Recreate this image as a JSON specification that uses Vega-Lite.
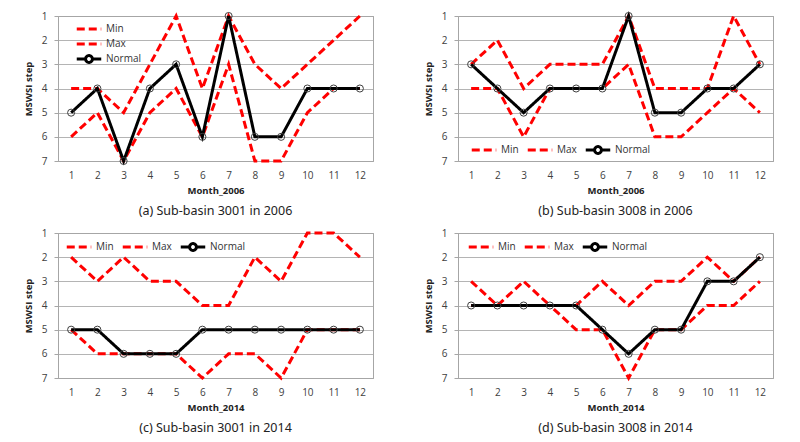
{
  "$schema": "https://vega.github.io/schema/vega-lite/v6.json",
  "padding": {"left": 22, "top": 9, "right": 5, "bottom": 5},
  "background": "white",
  "data": {"values": [
    {"p":"a","m":1,"Min":4,"Max":6,"Normal":5},{"p":"a","m":2,"Min":4,"Max":5,"Normal":4},{"p":"a","m":3,"Min":5,"Max":7,"Normal":7},{"p":"a","m":4,"Min":3,"Max":5,"Normal":4},{"p":"a","m":5,"Min":1,"Max":4,"Normal":3},{"p":"a","m":6,"Min":4,"Max":6,"Normal":6},{"p":"a","m":7,"Min":1,"Max":3,"Normal":1},{"p":"a","m":8,"Min":3,"Max":7,"Normal":6},{"p":"a","m":9,"Min":4,"Max":7,"Normal":6},{"p":"a","m":10,"Min":3,"Max":5,"Normal":4},{"p":"a","m":11,"Min":2,"Max":4,"Normal":4},{"p":"a","m":12,"Min":1,"Max":4,"Normal":4},
    {"p":"b","m":1,"Min":3,"Max":4,"Normal":3},{"p":"b","m":2,"Min":2,"Max":4,"Normal":4},{"p":"b","m":3,"Min":4,"Max":6,"Normal":5},{"p":"b","m":4,"Min":3,"Max":4,"Normal":4},{"p":"b","m":5,"Min":3,"Max":4,"Normal":4},{"p":"b","m":6,"Min":3,"Max":4,"Normal":4},{"p":"b","m":7,"Min":1,"Max":3,"Normal":1},{"p":"b","m":8,"Min":4,"Max":6,"Normal":5},{"p":"b","m":9,"Min":4,"Max":6,"Normal":5},{"p":"b","m":10,"Min":4,"Max":5,"Normal":4},{"p":"b","m":11,"Min":1,"Max":4,"Normal":4},{"p":"b","m":12,"Min":3,"Max":5,"Normal":3},
    {"p":"c","m":1,"Min":2,"Max":5,"Normal":5},{"p":"c","m":2,"Min":3,"Max":6,"Normal":5},{"p":"c","m":3,"Min":2,"Max":6,"Normal":6},{"p":"c","m":4,"Min":3,"Max":6,"Normal":6},{"p":"c","m":5,"Min":3,"Max":6,"Normal":6},{"p":"c","m":6,"Min":4,"Max":7,"Normal":5},{"p":"c","m":7,"Min":4,"Max":6,"Normal":5},{"p":"c","m":8,"Min":2,"Max":6,"Normal":5},{"p":"c","m":9,"Min":3,"Max":7,"Normal":5},{"p":"c","m":10,"Min":1,"Max":5,"Normal":5},{"p":"c","m":11,"Min":1,"Max":5,"Normal":5},{"p":"c","m":12,"Min":2,"Max":5,"Normal":5},
    {"p":"d","m":1,"Min":3,"Max":4,"Normal":4},{"p":"d","m":2,"Min":4,"Max":4,"Normal":4},{"p":"d","m":3,"Min":3,"Max":4,"Normal":4},{"p":"d","m":4,"Min":4,"Max":4,"Normal":4},{"p":"d","m":5,"Min":4,"Max":5,"Normal":4},{"p":"d","m":6,"Min":3,"Max":5,"Normal":5},{"p":"d","m":7,"Min":4,"Max":7,"Normal":6},{"p":"d","m":8,"Min":3,"Max":5,"Normal":5},{"p":"d","m":9,"Min":3,"Max":5,"Normal":5},{"p":"d","m":10,"Min":2,"Max":4,"Normal":3},{"p":"d","m":11,"Min":3,"Max":4,"Normal":3},{"p":"d","m":12,"Min":2,"Max":3,"Normal":2}
  ]},
  "transform": [{"fold": ["Min", "Max", "Normal"], "as": ["s", "v"]}],
  "columns": 2,
  "spacing": {"row": 8, "column": 48},
  "resolve": {"scale": {"color": "independent", "strokeDash": "independent", "strokeWidth": "independent"}, "legend": {"color": "independent"}},
  "concat": [
    {
      "width": 315, "height": 145,
      "transform": [{"filter": "datum.p === 'a'"}],
      "title": {"text": "(a) Sub-basin 3001 in 2006"},
      "resolve": {"axis": {"x": "independent", "y": "independent"}},
      "encoding": {
        "x": {"field": "m", "type": "quantitative", "title": "Month_2006", "scale": {"domain": [0.5, 12.5], "nice": false, "zero": false}, "axis": {"values": [1,2,3,4,5,6,7,8,9,10,11,12]}},
        "y": {"field": "v", "type": "quantitative", "title": "MSWSI step", "scale": {"domain": [1, 7], "reverse": true, "nice": false, "zero": false}, "axis": {"values": [1,2,3,4,5,6,7]}}
      },
      "layer": [
        {"mark": {"type": "line"},
         "encoding": {
           "color": {"field": "s", "type": "nominal", "scale": {"domain": ["Min", "Max", "Normal"], "range": ["#ff0000", "#ff0000", "#000000"]},
             "legend": {"title": null, "orient": "none", "legendX": 17, "legendY": 5.5, "direction": "vertical", "clipHeight": 15, "rowPadding": 0,
               "encode": {"symbols": {"update": {"shape": {"signal": "datum.value === 'Normal' ? 'M-1,0L-0.28,0M0.28,0L1,0M0.28,0A0.28,0.28,0,1,1,-0.28,0A0.28,0.28,0,1,1,0.28,0' : 'stroke'"}, "strokeDash": {"signal": "datum.value === 'Normal' ? [1,0] : [5,2.5]"}, "strokeWidth": {"signal": "datum.value === 'Normal' ? 1.5 : 3"}}}}}},
           "strokeDash": {"field": "s", "type": "nominal", "scale": {"domain": ["Min", "Max", "Normal"], "range": [[8,4],[8,4],[1,0]]}, "legend": null},
           "strokeWidth": {"field": "s", "type": "nominal", "scale": {"domain": ["Min", "Max", "Normal"], "range": [3, 3, 1.8]}, "legend": null}
         }},
        {"transform": [{"filter": "datum.s === 'Normal'"}],
         "mark": {"type": "point", "filled": false, "stroke": "#404040", "strokeWidth": 1, "size": 50, "opacity": 1},
         "encoding": {
           "x": {"field": "m", "type": "quantitative", "scale": {"domain": [0.5, 12.5], "nice": false, "zero": false}, "axis": {"orient": "top", "title": null, "labels": false, "ticks": false, "grid": false, "domain": true}},
           "y": {"field": "v", "type": "quantitative", "scale": {"domain": [1, 7], "reverse": true, "nice": false, "zero": false}, "axis": {"orient": "right", "title": null, "labels": false, "ticks": false, "grid": false, "domain": true}}
         }}
      ]
    },
    {
      "width": 315, "height": 145,
      "transform": [{"filter": "datum.p === 'b'"}],
      "title": {"text": "(b) Sub-basin 3008 in 2006"},
      "resolve": {"axis": {"x": "independent", "y": "independent"}},
      "encoding": {
        "x": {"field": "m", "type": "quantitative", "title": "Month_2006", "scale": {"domain": [0.5, 12.5], "nice": false, "zero": false}, "axis": {"values": [1,2,3,4,5,6,7,8,9,10,11,12]}},
        "y": {"field": "v", "type": "quantitative", "title": "MSWSI step", "scale": {"domain": [1, 7], "reverse": true, "nice": false, "zero": false}, "axis": {"values": [1,2,3,4,5,6,7]}}
      },
      "layer": [
        {"mark": {"type": "line"},
         "encoding": {
           "color": {"field": "s", "type": "nominal", "scale": {"domain": ["Min", "Max", "Normal"], "range": ["#ff0000", "#ff0000", "#000000"]},
             "legend": {"title": null, "orient": "none", "legendX": 12, "legendY": 120, "direction": "horizontal", "gridAlign": "none", "columnPadding": 2,
               "encode": {"symbols": {"update": {"shape": {"signal": "datum.value === 'Normal' ? 'M-1,0L-0.28,0M0.28,0L1,0M0.28,0A0.28,0.28,0,1,1,-0.28,0A0.28,0.28,0,1,1,0.28,0' : 'stroke'"}, "strokeDash": {"signal": "datum.value === 'Normal' ? [1,0] : [5,2.5]"}, "strokeWidth": {"signal": "datum.value === 'Normal' ? 1.5 : 3"}}}}}},
           "strokeDash": {"field": "s", "type": "nominal", "scale": {"domain": ["Min", "Max", "Normal"], "range": [[8,4],[8,4],[1,0]]}, "legend": null},
           "strokeWidth": {"field": "s", "type": "nominal", "scale": {"domain": ["Min", "Max", "Normal"], "range": [3, 3, 1.8]}, "legend": null}
         }},
        {"transform": [{"filter": "datum.s === 'Normal'"}],
         "mark": {"type": "point", "filled": false, "stroke": "#404040", "strokeWidth": 1, "size": 50, "opacity": 1},
         "encoding": {
           "x": {"field": "m", "type": "quantitative", "scale": {"domain": [0.5, 12.5], "nice": false, "zero": false}, "axis": {"orient": "top", "title": null, "labels": false, "ticks": false, "grid": false, "domain": true}},
           "y": {"field": "v", "type": "quantitative", "scale": {"domain": [1, 7], "reverse": true, "nice": false, "zero": false}, "axis": {"orient": "right", "title": null, "labels": false, "ticks": false, "grid": false, "domain": true}}
         }}
      ]
    },
    {
      "width": 315, "height": 145,
      "transform": [{"filter": "datum.p === 'c'"}],
      "title": {"text": "(c) Sub-basin 3001 in 2014"},
      "resolve": {"axis": {"x": "independent", "y": "independent"}},
      "encoding": {
        "x": {"field": "m", "type": "quantitative", "title": "Month_2014", "scale": {"domain": [0.5, 12.5], "nice": false, "zero": false}, "axis": {"values": [1,2,3,4,5,6,7,8,9,10,11,12]}},
        "y": {"field": "v", "type": "quantitative", "title": "MSWSI step", "scale": {"domain": [1, 7], "reverse": true, "nice": false, "zero": false}, "axis": {"values": [1,2,3,4,5,6,7]}}
      },
      "layer": [
        {"mark": {"type": "line"},
         "encoding": {
           "color": {"field": "s", "type": "nominal", "scale": {"domain": ["Min", "Max", "Normal"], "range": ["#ff0000", "#ff0000", "#000000"]},
             "legend": {"title": null, "orient": "none", "legendX": 7, "legendY": 0, "direction": "horizontal", "gridAlign": "none", "columnPadding": 2,
               "encode": {"symbols": {"update": {"shape": {"signal": "datum.value === 'Normal' ? 'M-1,0L-0.28,0M0.28,0L1,0M0.28,0A0.28,0.28,0,1,1,-0.28,0A0.28,0.28,0,1,1,0.28,0' : 'stroke'"}, "strokeDash": {"signal": "datum.value === 'Normal' ? [1,0] : [5,2.5]"}, "strokeWidth": {"signal": "datum.value === 'Normal' ? 1.5 : 3"}}}}}},
           "strokeDash": {"field": "s", "type": "nominal", "scale": {"domain": ["Min", "Max", "Normal"], "range": [[8,4],[8,4],[1,0]]}, "legend": null},
           "strokeWidth": {"field": "s", "type": "nominal", "scale": {"domain": ["Min", "Max", "Normal"], "range": [3, 3, 1.8]}, "legend": null}
         }},
        {"transform": [{"filter": "datum.s === 'Normal'"}],
         "mark": {"type": "point", "filled": false, "stroke": "#404040", "strokeWidth": 1, "size": 50, "opacity": 1},
         "encoding": {
           "x": {"field": "m", "type": "quantitative", "scale": {"domain": [0.5, 12.5], "nice": false, "zero": false}, "axis": {"orient": "top", "title": null, "labels": false, "ticks": false, "grid": false, "domain": true}},
           "y": {"field": "v", "type": "quantitative", "scale": {"domain": [1, 7], "reverse": true, "nice": false, "zero": false}, "axis": {"orient": "right", "title": null, "labels": false, "ticks": false, "grid": false, "domain": true}}
         }}
      ]
    },
    {
      "width": 315, "height": 145,
      "transform": [{"filter": "datum.p === 'd'"}],
      "title": {"text": "(d) Sub-basin 3008 in 2014"},
      "resolve": {"axis": {"x": "independent", "y": "independent"}},
      "encoding": {
        "x": {"field": "m", "type": "quantitative", "title": "Month_2014", "scale": {"domain": [0.5, 12.5], "nice": false, "zero": false}, "axis": {"values": [1,2,3,4,5,6,7,8,9,10,11,12]}},
        "y": {"field": "v", "type": "quantitative", "title": "MSWSI step", "scale": {"domain": [1, 7], "reverse": true, "nice": false, "zero": false}, "axis": {"values": [1,2,3,4,5,6,7]}}
      },
      "layer": [
        {"mark": {"type": "line"},
         "encoding": {
           "color": {"field": "s", "type": "nominal", "scale": {"domain": ["Min", "Max", "Normal"], "range": ["#ff0000", "#ff0000", "#000000"]},
             "legend": {"title": null, "orient": "none", "legendX": 9, "legendY": 0, "direction": "horizontal", "gridAlign": "none", "columnPadding": 2,
               "encode": {"symbols": {"update": {"shape": {"signal": "datum.value === 'Normal' ? 'M-1,0L-0.28,0M0.28,0L1,0M0.28,0A0.28,0.28,0,1,1,-0.28,0A0.28,0.28,0,1,1,0.28,0' : 'stroke'"}, "strokeDash": {"signal": "datum.value === 'Normal' ? [1,0] : [5,2.5]"}, "strokeWidth": {"signal": "datum.value === 'Normal' ? 1.5 : 3"}}}}}},
           "strokeDash": {"field": "s", "type": "nominal", "scale": {"domain": ["Min", "Max", "Normal"], "range": [[8,4],[8,4],[1,0]]}, "legend": null},
           "strokeWidth": {"field": "s", "type": "nominal", "scale": {"domain": ["Min", "Max", "Normal"], "range": [3, 3, 1.8]}, "legend": null}
         }},
        {"transform": [{"filter": "datum.s === 'Normal'"}],
         "mark": {"type": "point", "filled": false, "stroke": "#404040", "strokeWidth": 1, "size": 50, "opacity": 1},
         "encoding": {
           "x": {"field": "m", "type": "quantitative", "scale": {"domain": [0.5, 12.5], "nice": false, "zero": false}, "axis": {"orient": "top", "title": null, "labels": false, "ticks": false, "grid": false, "domain": true}},
           "y": {"field": "v", "type": "quantitative", "scale": {"domain": [1, 7], "reverse": true, "nice": false, "zero": false}, "axis": {"orient": "right", "title": null, "labels": false, "ticks": false, "grid": false, "domain": true}}
         }}
      ]
    }
  ],
  "config": {
    "view": {"stroke": "#a6a6a6", "strokeWidth": 1},
    "axis": {"domain": true, "domainColor": "#a6a6a6", "domainWidth": 1, "gridColor": "#b4b4b4", "labelFont": "Open Sans", "labelFontSize": 10, "labelColor": "#404040", "titleFont": "Open Sans", "titleFontSize": 9.5, "titleFontWeight": "bold", "titleColor": "#222222"},
    "axisX": {"grid": false, "ticks": false, "labelPadding": 9, "titlePadding": 5},
    "axisY": {"grid": true, "tickSize": 4, "tickColor": "#a6a6a6", "labelPadding": 7, "titlePadding": 8},
    "legend": {"labelFont": "Open Sans", "labelFontSize": 10, "labelColor": "#333333", "symbolSize": 600, "labelOffset": 3, "padding": 0, "offset": 0},
    "title": {"orient": "bottom", "font": "Noto Sans", "fontSize": 12.5, "fontWeight": "normal", "color": "#222222", "offset": 10, "anchor": "middle"}
  }
}
